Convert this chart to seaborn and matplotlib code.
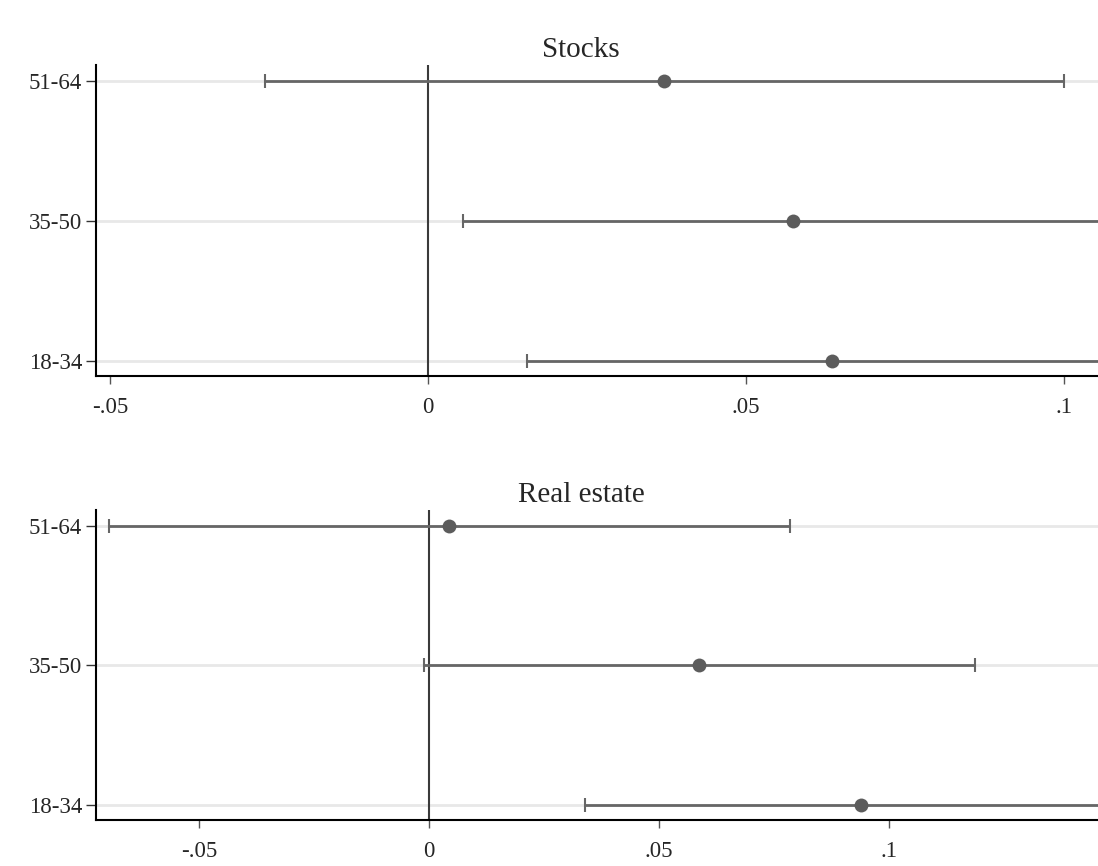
import numpy as np
import pandas as pd
import matplotlib
matplotlib.use("Agg")
import matplotlib.pyplot as plt
import seaborn as sns
from matplotlib.ticker import FuncFormatter

# Age groups (bottom to top)
age_groups = ["18-34", "35-50", "51-64"]

# Stocks: point estimates and confidence bounds
stocks_est = [0.0635, 0.0574, 0.0371]
stocks_low = [0.0156, 0.0055, -0.0256]
stocks_high = [0.1114, 0.1093, 0.1000]

# Real estate: point estimates and confidence bounds
realestate_est = [0.0939, 0.0587, 0.0044]
realestate_low = [0.0339, -0.0011, -0.0696]
realestate_high = [0.1540, 0.1187, 0.0785]

x_ticks = [-0.05, 0, 0.05, 0.1]


def stata_fmt(v, pos):
    if abs(v) < 1e-12:
        return "0"
    s = f"{v:g}"
    return s.replace("0.", ".")


sns.set_style("white")
plt.rcParams["font.family"] = ["Liberation Serif", "DejaVu Serif"]

fig = plt.figure(figsize=(10.98, 8.66), dpi=100)
ax_top = fig.add_axes([96 / 1098, 1 - 376 / 866, 1 - 96 / 1098, (376 - 65) / 866])
ax_bot = fig.add_axes([96 / 1098, 1 - 820 / 866, 1 - 96 / 1098, (820 - 510) / 866])

line_col = "#666666"
dot_col = "#5c5c5c"


def draw_panel(ax, title, est, low, high, xlim):
    df = pd.DataFrame({"group": age_groups, "est": est, "low": low, "high": high})
    df["ypos"] = np.arange(len(df))
    for y in df["ypos"]:
        ax.axhline(y, color="#e8e8e8", lw=2, zorder=0)
    ax.axvline(0, color="#3a3a3a", lw=1.5, zorder=1)
    ax.errorbar(df["est"], df["ypos"],
                xerr=[df["est"] - df["low"], df["high"] - df["est"]],
                fmt="none", ecolor=line_col, elinewidth=2, capsize=4.7,
                capthick=1.5, zorder=2)
    sns.scatterplot(data=df, x="est", y="ypos", ax=ax, color=dot_col,
                    s=100, edgecolor=dot_col, linewidth=0, zorder=3)
    ax.set_xlim(xlim)
    ax.set_ylim(-0.107, 2.114)
    ax.set_yticks(df["ypos"])
    ax.set_yticklabels(df["group"])
    ax.set_xticks(x_ticks)
    ax.xaxis.set_major_formatter(FuncFormatter(stata_fmt))
    ax.set_xlabel("")
    ax.set_ylabel("")
    for side in ["top", "right"]:
        ax.spines[side].set_visible(False)
    for side in ["left", "bottom"]:
        ax.spines[side].set_color("black")
        ax.spines[side].set_linewidth(1.5)
    ax.tick_params(axis="x", which="major", bottom=True, length=6, width=1,
                   color="#555555", labelsize=16.5, pad=9)
    ax.tick_params(axis="y", which="major", left=True, length=7, width=1,
                   color="#333333", labelsize=16.5, pad=3)
    ax.set_title(title, fontsize=21, x=0.484, pad=6)


draw_panel(ax_top, "Stocks", stocks_est, stocks_low, stocks_high, (-0.0522, 0.1053))
draw_panel(ax_bot, "Real estate", realestate_est, realestate_low, realestate_high, (-0.0724, 0.1454))

fig.savefig("out.png", dpi=100)
